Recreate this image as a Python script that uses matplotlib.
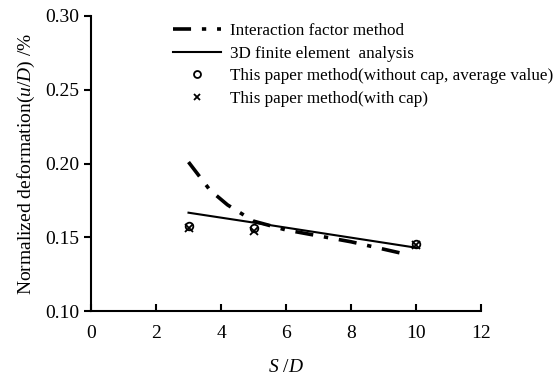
import matplotlib
matplotlib.use("Agg")
import matplotlib.pyplot as plt
from matplotlib.lines import Line2D

plt.rcParams["font.family"] = "Liberation Serif"
plt.rcParams["mathtext.fontset"] = "custom"
plt.rcParams["mathtext.rm"] = "Liberation Serif"
plt.rcParams["mathtext.it"] = "Liberation Serif:italic"

# interaction factor method
x_if = [3, 3.66, 4.2, 5, 6, 8, 9.8]
y_if = [0.201, 0.182, 0.172, 0.161, 0.155, 0.147, 0.138]

# 3D finite element analysis
x_fem = [3, 5, 10]
y_fem = [0.1667, 0.160, 0.143]

# this paper method
x_pts = [3, 5, 10]
y_nocap = [0.158, 0.156, 0.1455]
y_cap = [0.156, 0.154, 0.145]

fig = plt.figure(figsize=(5.6, 3.79), dpi=100)
ax = fig.add_axes([0.1625, 0.179, 0.6965, 0.779])

ax.plot(x_if, y_if, color="black", lw=2.6, dashes=(5, 3, 1.2, 3))
ax.plot(x_fem, y_fem, color="black", lw=1.5)
ax.plot(x_pts, y_nocap, ls="none", marker="o", ms=5.5, mfc="none", mec="black", mew=1.3)
ax.plot(x_pts, y_cap, ls="none", marker="x", ms=5.5, color="black", mew=1.3)

ax.set_xlim(0, 12)
ax.set_ylim(0.10, 0.30)
ax.set_xticks(range(0, 13, 2))
ax.set_yticks([0.10, 0.15, 0.20, 0.25, 0.30])
ax.set_yticklabels([f"{v:.2f}" for v in [0.10, 0.15, 0.20, 0.25, 0.30]])
ax.spines["top"].set_visible(False)
ax.spines["right"].set_visible(False)
ax.spines["left"].set_linewidth(1.5)
ax.spines["bottom"].set_linewidth(1.5)
ax.tick_params(axis="x", direction="in", length=5, width=1.5, labelsize=14, pad=10)
ax.tick_params(axis="y", direction="out", length=5, width=1.5, labelsize=14)

ax.set_xlabel(r"$S$ /$D$", fontsize=14, labelpad=12)
ax.set_ylabel(r"Normalized deformation($u$/$D$) /%", fontsize=14, labelpad=6)

handles = [
    Line2D([], [], color="black", lw=2.6, dashes=(5, 3, 1.2, 3)),
    Line2D([], [], color="black", lw=1.5),
    Line2D([], [], ls="none", marker="o", ms=5, mfc="none", mec="black", mew=1.3),
    Line2D([], [], ls="none", marker="x", ms=5, color="black", mew=1.3),
]
labels = [
    "Interaction factor method",
    "3D finite element  analysis",
    "This paper method(without cap, average value)",
    "This paper method(with cap)",
]
ax.legend(handles, labels, loc="upper left", bbox_to_anchor=(0.193, 1.0),
          frameon=False, fontsize=12.3, handlelength=2.8, handletextpad=0.55,
          labelspacing=0.4, borderaxespad=0)

fig.savefig("out.png", dpi=100)
